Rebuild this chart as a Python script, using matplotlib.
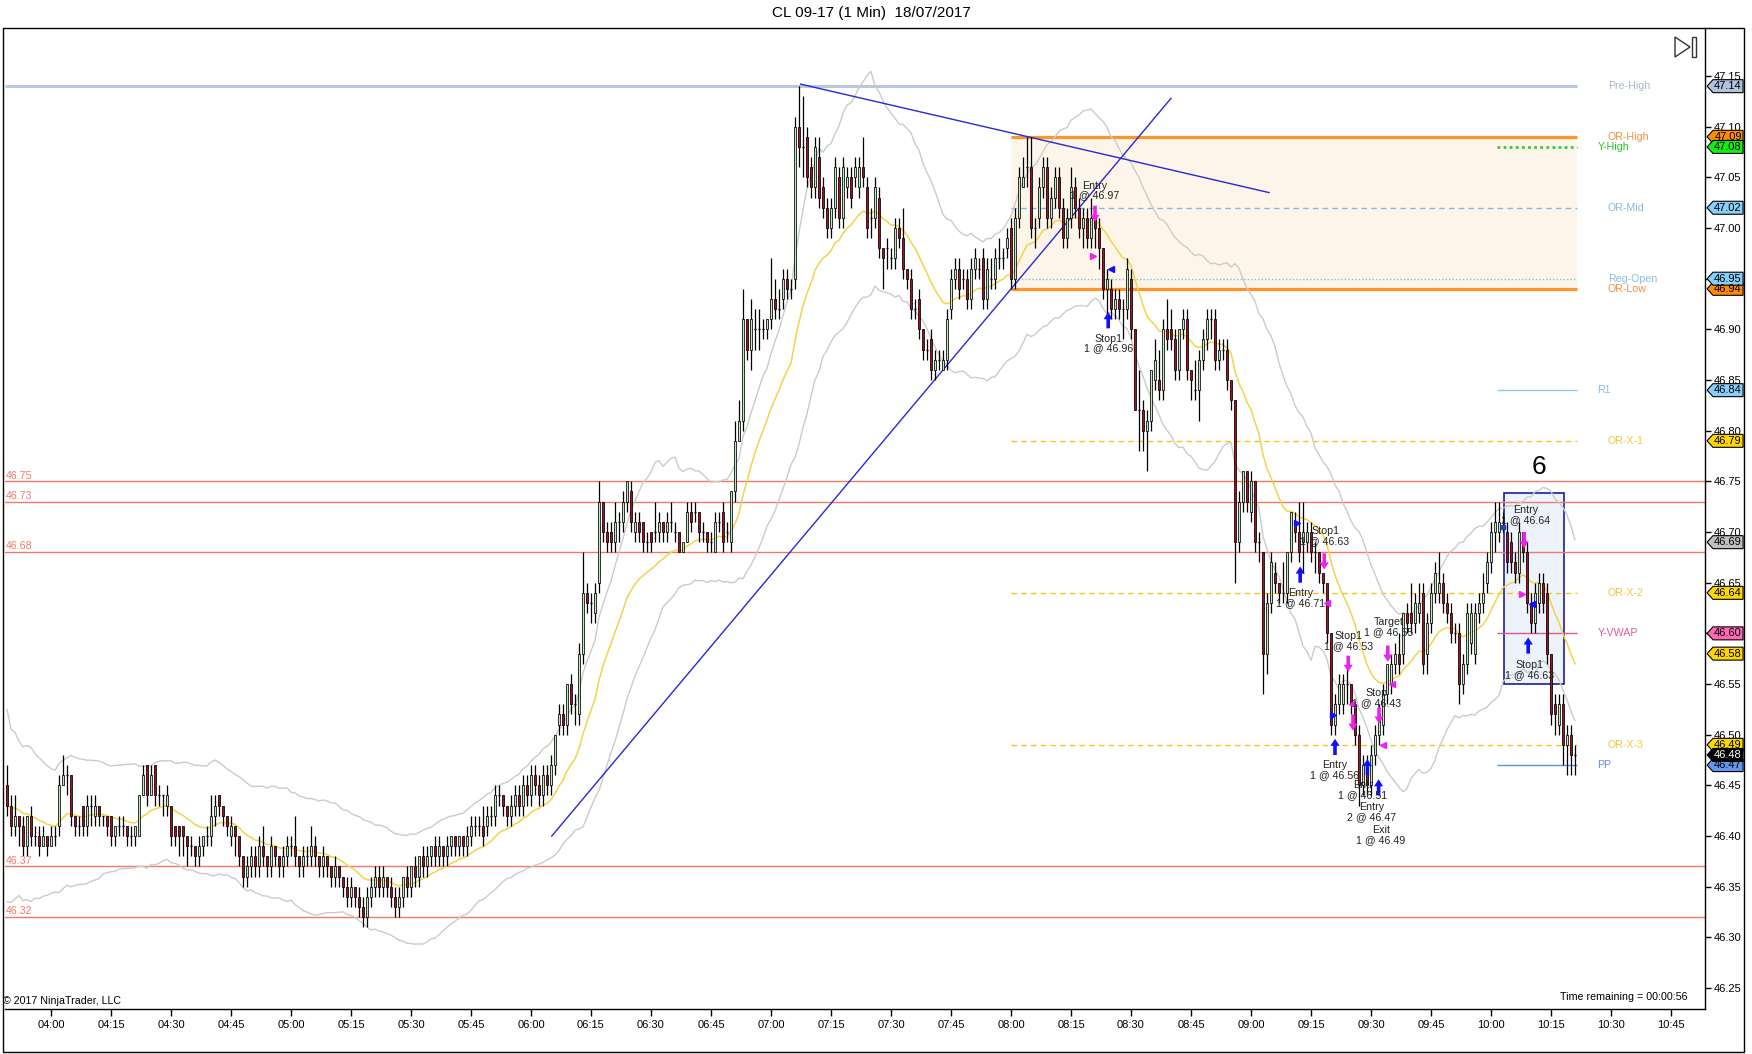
import numpy as np
import pandas as pd
import matplotlib
matplotlib.use("Agg")
import matplotlib.pyplot as plt
from matplotlib.patches import Polygon, Rectangle, FancyArrow
from matplotlib.transforms import blended_transform_factory

plt.rcParams['font.family'] = ['Liberation Sans', 'DejaVu Sans']

# 1 minute bars, x = minutes after 04:00, first bar is 03:49
first_bar = -11
base = 46.0
# prices in cents above 46.00, 15 bars per row
open_c = [45,43,41,42,41,39,42,40,40,39,40,39,40,41,45,
          46,46,42,41,43,41,43,42,43,42,42,42,40,41,41,
          41,40,40,40,44,47,44,47,44,44,43,43,41,41,41,
          40,39,39,38,39,40,40,42,44,43,42,40,41,40,38,
          36,37,38,37,39,38,37,39,38,37,38,39,39,38,37,
          38,38,39,38,37,38,37,36,37,36,35,34,35,34,33,
          32,34,35,36,35,36,35,34,33,34,36,35,37,36,38,
          37,38,39,38,39,38,39,40,39,40,39,40,41,41,41,
          41,42,42,44,44,43,42,43,44,43,45,44,46,45,44,
          46,45,47,51,52,51,55,53,52,58,64,63,62,65,73,
          70,70,69,71,71,73,74,70,71,71,69,70,70,70,71,
          70,71,70,70,68,69,72,72,72,70,70,69,68,71,72,
          70,69,74,79,81,91,88,90,90,90,90,91,93,92,93,
          95,94,95,110,108,109,106,104,107,104,102,100,102,105,101,
          104,105,105,104,106,104,101,101,103,98,98,97,97,100,99,
          96,95,92,93,90,88,89,86,87,86,87,92,95,96,95,
          95,93,96,96,97,93,95,95,97,97,98,100,95,101,104,
          106,106,100,101,104,106,101,103,105,102,99,101,104,102,100,
          101,99,101,100,98,94,94,92,93,92,92,95,90,82,82,
          80,81,85,85,84,90,90,89,86,90,91,86,84,84,87,
          89,91,91,87,88,88,85,83,69,73,76,72,75,69,68,
          58,63,66,65,64,64,68,71,70,69,69,70,68,68,66,
          65,60,51,53,53,55,55,53,50,45,47,45,48,50,51,
          54,55,57,58,58,62,62,61,62,64,58,61,64,64,65,
          63,62,60,60,55,57,59,58,62,63,65,67,70,70,71,
          70,69,67,66,70,68,63,61,63,65,64,58,53,51,53,
          49,50,48]
high_c = [47,44,44,42,42,42,43,41,41,41,40,41,41,46,48,
          47,46,42,42,43,44,44,44,43,42,42,42,41,42,42,
          41,41,41,44,47,47,47,47,45,44,45,43,41,41,41,
          40,40,39,40,40,41,44,44,44,43,42,42,41,40,38,
          38,39,39,40,41,38,40,39,38,39,40,40,42,38,39,
          39,41,40,38,39,38,37,38,37,36,36,36,35,35,34,
          35,36,37,37,37,36,36,35,35,36,37,37,38,38,39,
          39,39,40,40,39,40,40,40,40,40,41,42,42,42,43,
          43,43,45,45,44,43,44,45,45,46,46,47,47,46,47,
          47,48,50,53,53,55,56,54,59,68,65,64,65,75,73,
          71,71,73,72,74,75,75,72,72,71,70,70,73,72,71,
          72,73,71,70,69,73,73,73,72,71,70,70,72,72,73,
          71,74,81,83,94,91,93,92,92,91,91,97,95,94,96,
          96,95,111,114,113,110,107,109,109,105,103,103,107,106,107,
          106,106,107,107,109,105,102,105,104,98,99,98,101,101,102,
          96,96,93,94,90,89,90,88,88,88,92,96,97,97,96,
          96,97,98,97,98,97,97,98,99,98,100,101,102,106,107,
          109,109,101,105,107,107,104,106,106,103,102,106,105,103,102,
          102,103,102,101,98,96,95,94,94,93,97,96,90,86,83,
          82,86,89,88,91,93,92,90,90,92,92,86,87,88,90,
          92,92,92,89,89,89,85,83,74,76,76,76,75,70,68,
          64,68,67,65,67,68,72,72,73,73,71,71,69,68,66,
          65,60,54,56,56,57,55,53,51,48,48,49,51,53,55,
          57,58,59,60,62,63,65,64,65,65,62,65,67,68,66,
          64,63,61,61,58,63,63,63,64,66,68,71,73,73,72,
          71,70,68,71,70,69,64,65,66,66,65,58,54,54,54,
          51,51,49]
low_c = [42,40,40,39,38,38,39,39,38,39,38,39,39,40,45,
         44,41,40,40,40,40,41,41,41,41,40,39,39,40,40,
         39,39,39,40,44,43,44,43,43,42,42,39,39,38,38,
         37,38,37,37,38,39,39,41,42,41,40,39,38,37,35,
         35,36,36,36,37,36,36,37,36,36,37,38,37,36,36,
         37,37,37,36,36,36,35,35,35,34,33,33,33,32,31,
         31,33,34,34,34,34,33,32,32,33,34,34,35,35,36,
         36,37,37,37,37,37,38,38,38,38,38,39,40,40,39,
         40,41,41,43,42,41,41,42,42,42,43,43,44,43,43,
         44,44,46,50,50,50,52,51,51,57,62,61,61,64,69,
         68,68,68,69,70,72,70,69,69,68,68,68,69,69,69,
         69,70,69,68,68,69,70,71,69,69,68,68,68,70,68,
         69,68,73,79,80,87,86,88,88,89,89,90,91,91,92,
         93,93,94,106,105,104,103,103,102,101,99,99,101,100,100,
         103,102,104,103,104,99,99,100,97,94,96,96,96,98,95,
         94,91,91,89,87,87,85,85,86,86,86,91,94,93,94,
         92,92,95,95,92,92,94,94,96,96,97,94,94,100,104,
         104,99,98,100,103,100,100,102,101,98,98,100,101,99,98,
         98,98,98,96,93,91,91,91,91,89,91,89,82,78,78,
         76,80,84,83,83,88,88,85,85,89,85,83,83,81,86,
         88,89,86,86,87,84,82,65,68,72,72,71,68,67,54,
         56,62,64,63,63,63,67,69,67,66,68,67,66,65,64,
         59,50,50,52,52,53,52,49,43,44,44,44,47,49,50,
         53,54,56,56,57,60,60,60,61,56,56,60,63,63,62,
         61,59,59,53,54,56,58,57,61,62,64,66,68,69,70,
         66,66,65,65,67,62,60,60,62,62,57,51,50,50,47,
         46,46,46]
close_c = [43,41,42,41,39,42,40,40,39,40,39,40,40,45,46,
           46,42,41,41,41,43,43,43,42,42,41,40,41,41,41,
           40,40,41,44,46,44,46,44,44,44,44,40,40,40,40,
           39,39,38,39,40,40,42,43,43,42,41,41,40,38,36,
           37,38,37,39,38,37,39,38,37,38,39,39,38,37,38,
           38,39,38,37,38,37,36,37,36,35,34,35,34,33,32,
           34,35,36,35,36,35,34,33,34,36,35,37,36,38,37,
           38,39,38,39,38,39,40,39,40,39,40,41,41,41,40,
           42,42,44,44,43,42,43,44,43,45,44,46,45,44,46,
           45,47,50,52,51,55,53,53,58,64,63,63,64,73,70,
           69,69,71,71,73,75,71,71,70,69,69,69,70,71,70,
           71,71,70,68,69,72,71,72,70,70,69,69,71,71,69,
           70,74,79,81,91,88,91,90,90,90,91,93,92,92,95,
           94,94,110,108,108,105,104,108,103,102,100,102,106,101,106,
           105,103,106,106,105,100,101,104,98,97,98,97,100,99,96,
           95,92,92,90,88,88,86,87,87,87,91,95,96,94,95,
           93,96,97,96,93,96,95,97,97,97,99,95,101,105,105,
           106,100,100,104,106,101,103,105,102,99,101,104,102,100,101,
           99,101,100,98,94,95,92,93,92,92,96,90,82,82,80,
           81,86,87,84,90,89,89,86,90,91,86,85,84,87,89,
           91,91,87,88,88,85,83,69,73,76,73,75,69,69,58,
           63,67,65,64,64,68,72,70,68,70,70,68,68,66,65,
           60,51,53,55,55,55,53,50,45,47,45,48,50,52,54,
           57,57,58,57,62,61,61,63,63,57,61,64,66,65,63,
           62,60,60,55,57,62,62,62,63,64,67,70,71,71,71,
           67,67,66,70,68,63,61,64,65,63,58,52,52,53,49,
           50,48,48]

# session levels
or_start = 240            # 08:00
or_high, or_low = 47.09, 46.94
level_names = ['Pre-High', 'OR-High', 'Y-High', 'OR-Mid', 'Reg-Open', 'OR-Low',
               'R1', 'OR-X-1', 'OR-X-2', 'Y-VWAP', 'OR-X-3', 'PP']
level_prices = [47.14, 47.09, 47.08, 47.02, 46.95, 46.94,
                46.84, 46.79, 46.64, 46.60, 46.49, 46.47]
sr_prices = [46.75, 46.73, 46.68, 46.37, 46.32]

# price tags on the right scale (value, colour)
tag_values = [47.14, 47.09, 47.08, 47.02, 46.94, 46.95, 46.84, 46.79,
              46.69, 46.64, 46.60, 46.58, 46.49, 46.47, 46.48]
tag_colors = ['#b0c4de', '#ff8c00', '#11ee11', '#87cefa', '#ff8c00', '#87cefa',
              '#87cefa', '#ffd700', '#c0c0c0', '#ffd700', '#ff69b4', '#ffd700',
              '#ffd700', '#6495ed', '#000000']

# drawn trend lines (minute, price)
trend_a = [(125.2, 46.400), (280.0, 47.128)]
trend_b = [(187.4, 47.142), (304.5, 47.035)]
box6 = (363.3, 378.3, 46.550, 46.739)

# trade annotations (minute, price, text)
trade_notes = [
    (261.0, 47.037, 'Entry\n1 @ 46.97'),
    (264.3, 46.886, 'Stop1\n1 @ 46.96'),
    (318.5, 46.696, 'Stop1\n1 @ 46.63'),
    (312.3, 46.635, 'Entry\n1 @ 46.71'),
    (324.3, 46.592, 'Stop1\n1 @ 46.53'),
    (334.5, 46.606, 'Target\n1 @ 46.55'),
    (331.4, 46.536, 'Stop\n1 @ 46.43'),
    (321.0, 46.465, 'Entry\n1 @ 46.56'),
    (328.0, 46.445, 'Entr\n1 @ 46.51'),
    (330.2, 46.424, 'Entry\n2 @ 46.47'),
    (332.5, 46.401, 'Exit\n1 @ 46.49'),
    (368.7, 46.717, 'Entry\n1 @ 46.64'),
    (369.7, 46.564, 'Stop1\n1 @ 46.63'),
]
buy_arrows = [(264.3, 46.901), (312.3, 46.650), (321.0, 46.480),
              (329.1, 46.460), (331.9, 46.440), (369.3, 46.580)]
sell_arrows = [(261.0, 47.022), (318.3, 46.679), (324.3, 46.578),
               (334.2, 46.588), (332.0, 46.527), (368.3, 46.700), (325.5, 46.520)]
fill_right_m = [(260.6, 46.972), (367.7, 46.639)]
fill_right_b = [(311.6, 46.709), (320.6, 46.519)]
fill_left_m = [(319.1, 46.630), (335.2, 46.550), (325.2, 46.530), (333.0, 46.490)]
fill_left_b = [(265.0, 46.960), (370.2, 46.629)]

# ---------------------------------------------------------------
o = base + np.array(open_c) / 100
h = base + np.array(high_c) / 100
l = base + np.array(low_c) / 100
c = base + np.array(close_c) / 100
h = np.maximum(h, np.maximum(o, c))
l = np.minimum(l, np.minimum(o, c))
x = np.arange(len(c)) + first_bar

close_s = pd.Series(c)
ema = close_s.ewm(span=20, adjust=False).mean()
prev_c = close_s.shift(1).fillna(close_s.iloc[0])
tr = pd.concat([pd.Series(h - l), (pd.Series(h) - prev_c).abs(),
                (pd.Series(l) - prev_c).abs()], axis=1).max(axis=1)
atr = tr.rolling(20, min_periods=1).mean()
mid = close_s.rolling(20, min_periods=1).mean()
upper = mid + 1.9 * atr
lower = mid - 1.9 * atr

W, H = 1752, 1054
fig = plt.figure(figsize=(W / 100, H / 100), dpi=100)
ax = fig.add_axes([5 / W, 45 / H, 1700 / W, 981 / H])
xmin, xmax = -11.5, 413.5
ax.set_xlim(xmin, xmax)
ax.set_ylim(46.2293, 47.1974)

# level lines stop just after the last bar, labels sit to the right
line_end = x[-1] + 0.5

# opening range zone and levels
ax.fill_between([or_start, line_end], or_low, or_high, color='#fdf5ea', zorder=0, lw=0)
r1 = Rectangle((box6[0], box6[2]), box6[1] - box6[0], box6[3] - box6[2],
               facecolor='#eef2fb', edgecolor='#1e1ea0', lw=1.2, zorder=1)
ax.add_patch(r1)

lvl = dict(zip(level_names, level_prices))
ax.hlines(lvl['Pre-High'], xmin, line_end, color='#b8c8de', lw=2.2, zorder=1)
ax.hlines([lvl['OR-High'], lvl['OR-Low']], or_start, line_end, color='#ff9428', lw=2.3, zorder=1)
ax.hlines(lvl['OR-Mid'], or_start, line_end, color='#8ab8e0', lw=1, linestyles=(0, (4, 3)), zorder=1)
ax.hlines(lvl['Reg-Open'], or_start, line_end, color='#80c4d8', lw=1, linestyles=(0, (1, 1.5)), zorder=1)
ax.hlines([lvl['OR-X-1'], lvl['OR-X-2'], lvl['OR-X-3']], or_start, line_end,
          color='#f2c81e', lw=1, linestyles=(0, (4, 3)), zorder=1)
short_a = 361.5
ax.hlines(lvl['Y-High'], short_a, line_end, color='#33cc33', lw=2, linestyles=(0, (1, 1.2)), zorder=1)
ax.hlines(lvl['R1'], short_a, line_end, color='#8ec8ea', lw=1, zorder=1)
ax.hlines(lvl['Y-VWAP'], short_a, line_end, color='#e0559a', lw=1, zorder=1)
ax.hlines(lvl['PP'], short_a, line_end, color='#5f8fe0', lw=1, zorder=1)
for p in sr_prices:
    ax.axhline(p, color='#f07a6a', lw=1, zorder=1)
    ax.text(xmin + 0.3, p + 0.0008, f'{p:.2f}', color='#f07a6a', fontsize=7.7,
            ha='left', va='bottom', zorder=6)

label_style = {
    'Pre-High': ('#a8b8d0', 389.2), 'OR-High': ('#f49040', 389.2),
    'Y-High': ('#22cc22', 386.6), 'OR-Mid': ('#88b8e0', 389.2),
    'Reg-Open': ('#88c0e0', 389.2), 'OR-Low': ('#f49040', 389.2),
    'R1': ('#88c0e8', 386.6), 'OR-X-1': ('#f0cc40', 389.2),
    'OR-X-2': ('#f0cc40', 389.2), 'Y-VWAP': ('#e05aa0', 386.6),
    'OR-X-3': ('#f0cc40', 389.2), 'PP': ('#6490e0', 386.6),
}
for name, p in zip(level_names, level_prices):
    col, tx = label_style[name]
    ax.text(tx, p, name, color=col, fontsize=7.7, ha='left', va='center', zorder=6)

# indicators
ax.plot(x, upper, color='#cbcbcb', lw=1, zorder=2)
ax.plot(x, lower, color='#cbcbcb', lw=1, zorder=2)
ax.plot(x, ema, color='#f2d44a', lw=1.1, zorder=3)

# trend lines
for seg in (trend_a, trend_b):
    ax.plot([seg[0][0], seg[1][0]], [seg[0][1], seg[1][1]], color='#2828d8', lw=1, zorder=3)

# candles
bw = 0.72
up = c > o
dn = c < o
flat = c == o
ax.vlines(x, l, h, color='black', lw=0.9, zorder=4)
ax.bar(x[up], (c - o)[up], bottom=o[up], width=bw, color='#c3e8c3',
       edgecolor='black', lw=0.55, zorder=5)
ax.bar(x[dn], (o - c)[dn], bottom=c[dn], width=bw, color='#9e1426',
       edgecolor='black', lw=0.55, zorder=5)
ax.hlines(c[flat], x[flat] - bw / 2, x[flat] + bw / 2, color='black', lw=1, zorder=5)
ax.plot(363, 46.705, marker='s', color='#2040c0', ms=3.5, zorder=6)

# trade markers: block arrows
arr_len = 0.016
for t, p in buy_arrows:
    ax.add_patch(FancyArrow(t, p, 0, arr_len, width=0.9, head_width=2.3, head_length=0.007,
                            length_includes_head=True, color='#1010ff', lw=0, zorder=7))
for t, p in sell_arrows:
    ax.add_patch(FancyArrow(t, p, 0, -arr_len, width=0.9, head_width=2.3, head_length=0.007,
                            length_includes_head=True, color='#ee22ee', lw=0, zorder=7))
for t, p in fill_right_m:
    ax.plot(t, p, marker='>', color='#ee22ee', ms=4.5, zorder=7, lw=0)
for t, p in fill_right_b:
    ax.plot(t, p, marker='>', color='#1010ff', ms=4.5, zorder=7, lw=0)
for t, p in fill_left_m:
    ax.plot(t, p, marker='<', color='#ee22ee', ms=4.5, zorder=7, lw=0)
for t, p in fill_left_b:
    ax.plot(t, p, marker='<', color='#1010ff', ms=4.5, zorder=7, lw=0)
for t, p, txt in trade_notes:
    ax.text(t, p, txt, ha='center', va='center', fontsize=7.7, color='#222222',
            linespacing=1.0, zorder=8)
ax.text(372, 46.764, '6', ha='center', va='center', fontsize=19, color='black', zorder=8)

# axes styling
ax.yaxis.tick_right()
ticks = np.round(np.arange(46.25, 47.151, 0.05), 2)
ax.set_yticks(ticks)
ax.set_yticklabels([f'{v:.2f}' for v in ticks])
xt = np.arange(0, 406, 15)
ax.set_xticks(xt)
ax.set_xticklabels([f'{4 + v // 60:02d}:{v % 60:02d}' for v in xt])
ax.tick_params(axis='y', direction='out', length=4, pad=2, labelsize=8, width=1)
ax.tick_params(axis='x', direction='out', length=5, pad=3, labelsize=8, width=1)
for s in ['top', 'left']:
    ax.spines[s].set_visible(False)
for s in ['bottom', 'right']:
    ax.spines[s].set_color('black')
    ax.spines[s].set_linewidth(1)

# right scale price tags
bt = blended_transform_factory(ax.transAxes, ax.transData)
hh = 0.0064
x0, x1, x2 = 1.0012, 1.0047, 1.0224
for v, col in zip(tag_values, tag_colors):
    poly = Polygon([(x0, v), (x1, v + hh), (x2, v + hh), (x2, v - hh), (x1, v - hh)],
                   closed=True, transform=bt, facecolor=col, edgecolor='black',
                   lw=0.8, clip_on=False, zorder=10)
    ax.add_patch(poly)
    ax.text((x1 + x2) / 2, v, f'{v:.2f}', transform=bt, ha='center', va='center',
            fontsize=8, color='white' if col == '#000000' else 'black',
            clip_on=False, zorder=11)

ax.text(0.990, 0.0125, 'Time remaining = 00:00:56', transform=ax.transAxes,
        ha='right', va='center', fontsize=7.7)
ax.text(-0.0012, 0.008, '\u00a9 2017 NinjaTrader, LLC', transform=ax.transAxes,
        ha='left', va='center', fontsize=7.7)

# title, frame, top icon
fig.text(871 / W, 1 - 13 / H, 'CL 09-17 (1 Min)  18/07/2017', ha='center', va='center', fontsize=11)
fig.add_artist(Rectangle((2.5 / W, 2 / H), 1741.5 / W, 1024 / H, transform=fig.transFigure,
                         fill=False, edgecolor='black', lw=1))
fig.add_artist(Polygon([(1675 / W, 1 - 37 / H), (1675 / W, 1 - 57 / H), (1690 / W, 1 - 47 / H)],
                       closed=True, transform=fig.transFigure, fill=False, edgecolor='#333333', lw=1))
fig.add_artist(Rectangle((1692 / W, 1 - 57 / H), 4 / W, 20 / H, transform=fig.transFigure,
                         fill=False, edgecolor='#333333', lw=1))

fig.savefig('out.png', dpi=100)
